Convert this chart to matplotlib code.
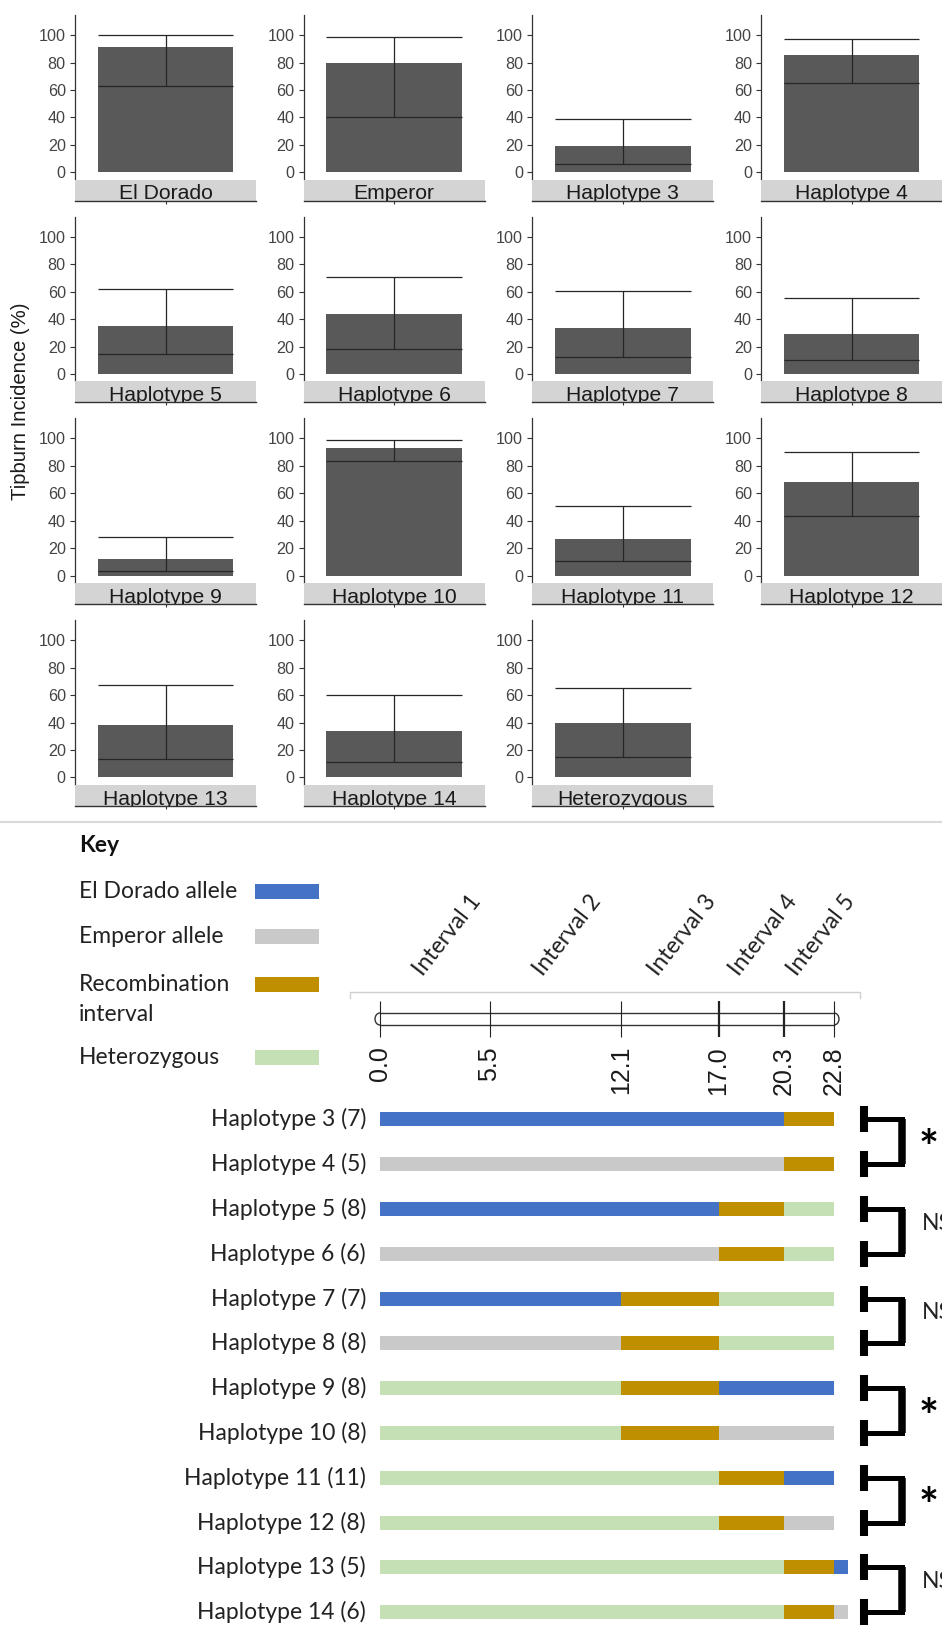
import numpy as np
import matplotlib
matplotlib.use('Agg')
import matplotlib.pyplot as plt
from matplotlib.patches import Arc

W, H = 942, 1632

# ---- tipburn incidence per genotype class (%) ----
panel_names = ['El Dorado', 'Emperor', 'Haplotype 3', 'Haplotype 4',
               'Haplotype 5', 'Haplotype 6', 'Haplotype 7', 'Haplotype 8',
               'Haplotype 9', 'Haplotype 10', 'Haplotype 11', 'Haplotype 12',
               'Haplotype 13', 'Haplotype 14', 'Heterozygous']
bar_vals = [91.5, 80.0, 19.3, 85.4, 35.3, 44.0, 33.7, 29.0,
            12.1, 93.4, 26.9, 68.4, 38.3, 33.7, 39.4]
mid_vals = [62.7, 40.5, 6.0, 64.8, 14.3, 17.9, 12.2, 10.5,
            3.2, 83.7, 10.8, 43.3, 13.8, 10.9, 15.0]
upper_vals = [100.0, 98.3, 39.2, 96.8, 61.8, 70.5, 60.5, 55.2,
              27.9, 99.0, 50.9, 89.8, 67.3, 60.3, 65.0]
y_ticks = [0, 20, 40, 60, 80, 100]

# ---- graphical genotypes along the interval (cM) ----
hap_labels = ['Haplotype 3 (7)', 'Haplotype 4 (5)', 'Haplotype 5 (8)',
              'Haplotype 6 (6)', 'Haplotype 7 (7)', 'Haplotype 8 (8)',
              'Haplotype 9 (8)', 'Haplotype 10 (8)', 'Haplotype 11 (11)',
              'Haplotype 12 (8)', 'Haplotype 13 (5)', 'Haplotype 14 (6)']
hap_bounds = [[0, 20.3, 22.8], [0, 20.3, 22.8],
              [0, 17.0, 20.3, 22.8], [0, 17.0, 20.3, 22.8],
              [0, 12.1, 17.0, 22.8], [0, 12.1, 17.0, 22.8],
              [0, 12.1, 17.0, 22.8], [0, 12.1, 17.0, 22.8],
              [0, 17.0, 20.3, 22.8], [0, 17.0, 20.3, 22.8],
              [0, 20.3, 22.8, 23.5], [0, 20.3, 22.8, 23.5]]
hap_states = [['D', 'R'], ['M', 'R'],
              ['D', 'R', 'H'], ['M', 'R', 'H'],
              ['D', 'R', 'H'], ['M', 'R', 'H'],
              ['H', 'R', 'D'], ['H', 'R', 'M'],
              ['H', 'R', 'D'], ['H', 'R', 'M'],
              ['H', 'R', 'D'], ['H', 'R', 'M']]
markers_cm = [0.0, 5.5, 12.1, 17.0, 20.3, 22.8]
bold_markers = [17.0, 20.3]
interval_names = ['Interval 1', 'Interval 2', 'Interval 3', 'Interval 4', 'Interval 5']
pair_sig = ['*', 'NS', 'NS', '*', '*', 'NS']

key_states = ['D', 'M', 'R', 'H']
key_labels = [['El Dorado allele'], ['Emperor allele'],
              ['Recombination', 'interval'], ['Heterozygous']]
state_colors = {'D': '#4472C4', 'M': '#C9C9C9', 'R': '#BF8F00', 'H': '#C5E0B4'}

ARIAL = 'Liberation Sans'
CAL = 'Lato'

fig = plt.figure(figsize=(W / 100, H / 100), dpi=100)


def px_axes(left, top, w, h):
    return fig.add_axes([left / W, 1 - (top + h) / H, w / W, h / H])


# ---------- faceted bar panels ----------
for i, name in enumerate(panel_names):
    r, c = divmod(i, 4)
    left = 75 + 228.7 * c
    top = 15 + 201.7 * r
    ax = px_axes(left, top, 181, 164.5)
    ax.bar(1, bar_vals[i], width=0.9, color='#595959')
    ax.hlines([mid_vals[i], upper_vals[i]], 0.55, 1.45, color='#262626', lw=0.9)
    ax.vlines(1, mid_vals[i], upper_vals[i], color='#262626', lw=0.9)
    ax.set_xlim(0.4, 1.6)
    ax.set_ylim(-5.2, 114.6)
    for s in ['top', 'right', 'bottom']:
        ax.spines[s].set_visible(False)
    ax.spines['left'].set_color('#333333')
    ax.spines['left'].set_linewidth(0.9)
    ax.set_xticks([])
    ax.set_yticks(y_ticks)
    ax.tick_params(axis='y', length=3.6, width=0.8, color='#333333',
                   labelcolor='#444444', labelsize=11.6, pad=3.0)
    for lab in ax.get_yticklabels():
        lab.set_family(ARIAL)

    strip = px_axes(left, top + 164.5, 181, 21)
    strip.set_facecolor('#D4D4D4')
    strip.set_xlim(0, 1)
    strip.set_ylim(0, 1)
    for s in ['top', 'right', 'left']:
        strip.spines[s].set_visible(False)
    strip.spines['bottom'].set_color('#333333')
    strip.spines['bottom'].set_linewidth(1.0)
    strip.set_yticks([])
    strip.set_xticks([0.5])
    strip.set_xticklabels([])
    strip.tick_params(axis='x', length=2.5, width=0.8, color='#333333')
    strip.text(0.5, 0.05, name, ha='center', va='baseline', fontsize=15.2,
               family=ARIAL, color='#1a1a1a', clip_on=True)

fig.text(21 / W, 1 - 401 / H, 'Tipburn Incidence (%)', rotation=90,
         ha='center', va='center', fontsize=14.6, family=ARIAL, color='#1a1a1a')

# ---------- key (pixel coordinates) ----------
kax = px_axes(0, 815, W, H - 815)
kax.set_xlim(0, W)
kax.set_ylim(H, 815)
kax.axis('off')
kax.axhline(822, color='#d9d9d9', lw=1.5)
kax.text(79, 846, 'Key', fontsize=16.5, family=CAL, weight='bold',
         ha='left', va='center', color='#111111')
key_y = [892, 937, 984.5, 1057.5]
for y, lines, st in zip(key_y, key_labels, key_states):
    for j, line in enumerate(lines):
        kax.text(79, y + 30 * j, line, fontsize=16.5, family=CAL,
                 ha='left', va='center', color='#222222')
kax.barh(key_y, 64, left=255, height=15, color=[state_colors[s] for s in key_states])

# ---------- haplotype map (x in cM, y in pixels) ----------
px_per_cm = (834 - 380) / 22.8
mx = px_axes(0, 815, W, H - 815)
mx.set_xlim(-380 / px_per_cm, (W - 380) / px_per_cm)
mx.set_ylim(H, 815)
mx.axis('off')
mx.patch.set_alpha(0)

# chromosome ruler
ry0, ry1 = 1013, 1025
mx.hlines([ry0, ry1], markers_cm[0], markers_cm[-1], color='#333333', lw=1.0)
cap_w = 10 / px_per_cm
mx.add_patch(Arc((markers_cm[0], (ry0 + ry1) / 2), cap_w, ry1 - ry0,
                 theta1=90, theta2=270, color='#333333', lw=1.0))
mx.add_patch(Arc((markers_cm[-1], (ry0 + ry1) / 2), cap_w, ry1 - ry0,
                 theta1=-90, theta2=90, color='#333333', lw=1.0))
for m in markers_cm:
    mx.vlines(m, 1001, 1037, color='#222222',
              lw=1.6 if m in bold_markers else 0.8)
    mx.text(m, 1046, f'{m:.1f}', rotation=90, ha='center', va='top',
            fontsize=18, family=ARIAL, color='#1a1a1a')

# light frame line above the ruler
gx0, gx1 = -30 / px_per_cm, markers_cm[-1] + 26 / px_per_cm
mx.plot([gx0, gx0, gx1, gx1], [998, 992, 992, 998], color='#d0d0d0', lw=1.0)

for k, name in enumerate(interval_names):
    mid = (markers_cm[k] + markers_cm[k + 1]) / 2
    mx.text(mid - 0.45, 979, name, rotation=52, rotation_mode='anchor',
            ha='left', va='bottom', fontsize=16.5, family=CAL, color='#222222')

# haplotype bars
row_y = 1119.4 + 44.8 * np.arange(len(hap_labels))
for y, lab, bounds, states in zip(row_y, hap_labels, hap_bounds, hap_states):
    b = np.array(bounds)
    mx.barh([y] * len(states), np.diff(b), left=b[:-1], height=14,
            color=[state_colors[s] for s in states])
    mx.text(-0.7, y, lab, ha='right', va='center', fontsize=16.5,
            family=CAL, color='#222222')

# pairwise comparison brackets
xb0 = 24.31
xb1 = 26.22
for k, sig in enumerate(pair_sig):
    y1, y2 = row_y[2 * k], row_y[2 * k + 1]
    mx.plot([xb0, xb1, xb1, xb0], [y1, y1, y2, y2], color='black', lw=3.6,
            solid_joinstyle='miter', solid_capstyle='butt')
    mx.vlines(xb1, y1, y2, color='black', lw=5.4)
    mx.vlines([xb0, xb0], [y1 - 13, y2 - 13], [y1 + 13, y2 + 13], color='black', lw=5.8)
    ym = (y1 + y2) / 2
    if sig == '*':
        mx.text(27.05, ym + 8, sig, ha='left', va='center', fontsize=34,
                family=CAL, weight='bold', color='black', clip_on=False)
    else:
        mx.text(27.2, ym - 8, sig, ha='left', va='center', fontsize=16.5,
                family=CAL, color='#222222', clip_on=False)

fig.savefig('out.png', dpi=100)
